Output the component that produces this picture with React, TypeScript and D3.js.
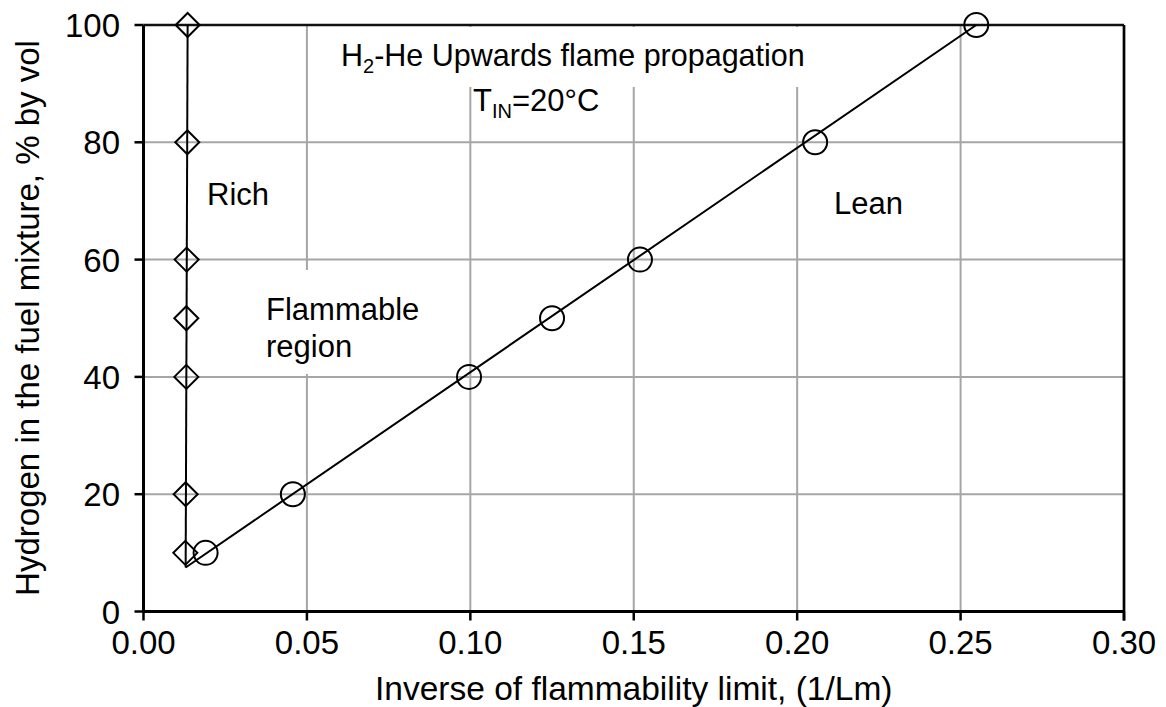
import React from "react";
import * as d3 from "d3";

// ---- data ----
const richH2 = [10, 20, 40, 50, 60, 80, 100];
const richInvL = [0.0128, 0.0129, 0.0131, 0.0131, 0.0132, 0.0134, 0.0135];
const leanH2 = [10, 20, 40, 50, 60, 80, 100];
const leanInvL = [0.019, 0.0457, 0.0996, 0.125, 0.1519, 0.2055, 0.2548];
// trend line end points (x, y)
const richLineX = [0.0129, 0.0135];
const richLineY = [7.5, 100];
const leanLineX = [0.0129, 0.2548];
const leanLineY = [7.5, 100];
const xTicks = [0, 0.05, 0.1, 0.15, 0.2, 0.25, 0.3];
const yTicks = [0, 20, 40, 60, 80, 100];

const W = 1166;
const H = 707;
const left = 143.5;
const right = 1124;
const top = 25;
const bottom = 611.5;
const FONT = "'Liberation Sans', Arial, Helvetica, sans-serif";

export default function App() {
  const x = d3.scaleLinear().domain([0, 0.3]).range([left, right]);
  const y = d3.scaleLinear().domain([0, 100]).range([bottom, top]);
  const line = d3
    .line<[number, number]>()
    .x((d) => x(d[0]))
    .y((d) => y(d[1]));
  const richLine: [number, number][] = richLineX.map((v, i) => [v, richLineY[i]]);
  const leanLine: [number, number][] = leanLineX.map((v, i) => [v, leanLineY[i]]);
  const grid = "#a6a6a6";
  const ds = 12;

  return (
    <svg
      width={W}
      height={H}
      style={{ position: "absolute", left: 0, top: 0, background: "#fff" }}
      fontFamily={FONT}
    >
      <rect x={0} y={0} width={W} height={H} fill="#fff" />
      {/* grid */}
      {yTicks.slice(1, -1).map((t) => (
        <line key={"gy" + t} x1={left} x2={right} y1={y(t)} y2={y(t)} stroke={grid} strokeWidth={2} />
      ))}
      {xTicks.slice(1, -1).map((t) => (
        <line key={"gx" + t} x1={x(t)} x2={x(t)} y1={top} y2={bottom} stroke={grid} strokeWidth={2} />
      ))}
      {/* white label boxes */}
      <rect x={330} y={27} width={487} height={60} fill="#fff" />
      <rect x={258} y={270} width={175} height={104} fill="#fff" />
      {/* border */}
      <line x1={left} x2={right} y1={top} y2={top} stroke="#111" strokeWidth={2.5} />
      <line x1={right} x2={right} y1={top} y2={bottom + 9} stroke="#000" strokeWidth={2.7} />
      {/* axes */}
      <line x1={left} x2={left} y1={top} y2={bottom} stroke="#000" strokeWidth={3} />
      <line x1={left} x2={right} y1={bottom} y2={bottom} stroke="#000" strokeWidth={3} />
      {xTicks.map((t) => (
        <line key={"tx" + t} x1={x(t)} x2={x(t)} y1={bottom} y2={bottom + 9} stroke="#000" strokeWidth={2.5} />
      ))}
      {yTicks.map((t) => (
        <line key={"ty" + t} x1={left - 9} x2={left} y1={y(t)} y2={y(t)} stroke="#000" strokeWidth={2.5} />
      ))}
      {/* tick labels */}
      {xTicks.map((t) => (
        <text key={"lx" + t} x={x(t)} y={654} textAnchor="middle" fontSize={33} fill="#000">
          {d3.format(".2f")(t)}
        </text>
      ))}
      {yTicks.map((t) => (
        <text key={"ly" + t} x={120} y={y(t) + 12} textAnchor="end" fontSize={33} fill="#000">
          {t}
        </text>
      ))}
      {/* axis titles */}
      <text x={(left + right) / 2} y={700} textAnchor="middle" fontSize={33.5} fill="#000">
        Inverse of flammability limit, (1/Lm)
      </text>
      <text
        transform={`translate(39, ${318}) rotate(-90)`}
        textAnchor="middle"
        fontSize={33}
        fill="#000"
      >
        Hydrogen in the fuel mixture, % by vol
      </text>
      {/* lines */}
      <path d={line(richLine) || ""} fill="none" stroke="#000" strokeWidth={2} />
      <path d={line(leanLine) || ""} fill="none" stroke="#000" strokeWidth={2} />
      {/* markers */}
      {richInvL.map((v, i) => {
        const cx = x(v);
        const cy = y(richH2[i]);
        return (
          <path
            key={"d" + i}
            d={`M${cx},${cy - ds}L${cx + ds},${cy}L${cx},${cy + ds}L${cx - ds},${cy}Z`}
            fill="none"
            stroke="#000"
            strokeWidth={2}
          />
        );
      })}
      {leanInvL.map((v, i) => (
        <circle key={"c" + i} cx={x(v)} cy={y(leanH2[i])} r={12} fill="none" stroke="#000" strokeWidth={2} />
      ))}
      {/* annotations */}
      <text x={341} y={66} fontSize={30.5} fill="#000">
        H<tspan fontSize={20} dy={7}>2</tspan>
        <tspan dy={-7}>-He Upwards flame propagation</tspan>
      </text>
      <text x={473} y={111} fontSize={31} fill="#000">
        T<tspan fontSize={20} dy={7}>IN</tspan>
        <tspan dy={-7}>=20°C</tspan>
      </text>
      <text x={207} y={205} fontSize={31} fill="#000">Rich</text>
      <text x={266} y={320} fontSize={31} fill="#000">Flammable</text>
      <text x={266} y={357} fontSize={31} fill="#000">region</text>
      <text x={834} y={214} fontSize={31} fill="#000">Lean</text>
    </svg>
  );
}
